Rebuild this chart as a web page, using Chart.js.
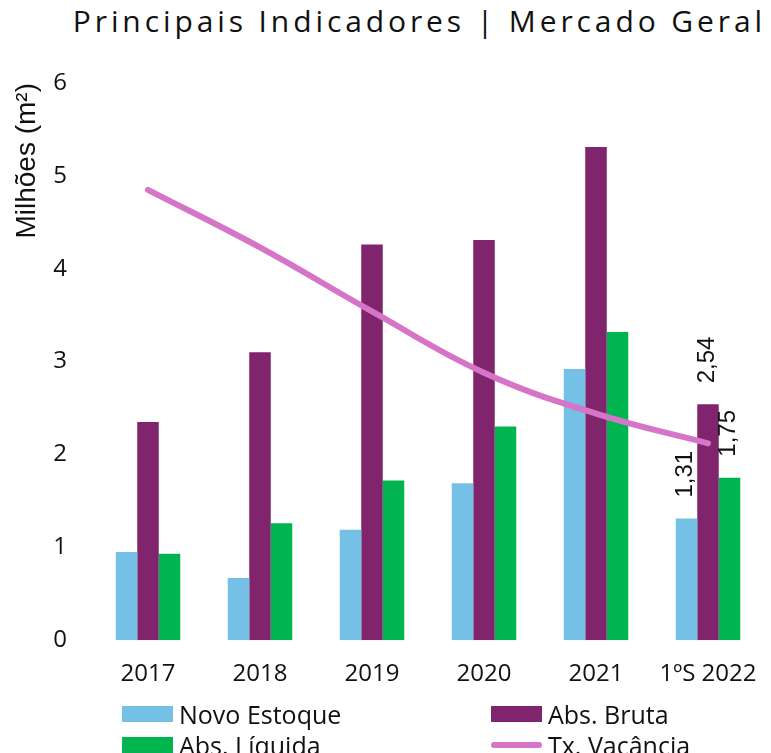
<!DOCTYPE html>
<html lang="pt-BR">
<head>
    <meta charset="utf-8">
    <script src="https://cdn.jsdelivr.net/npm/chart.js"></script>
    <style>
        html, body { margin: 0; padding: 0; background: #fff; overflow: hidden; }
        body { position: relative; width: 771px; height: 753px; }
        #titulo {
            position: absolute;
            top: 6px;
            right: 5px;
            margin: 0;
            font-family: "Open Sans", sans-serif;
            font-weight: normal;
            font-size: 30px;
            line-height: 29px;
            letter-spacing: 3.9px;
            white-space: nowrap;
            color: #111;
        }
        #chart { position: absolute; top: 0; left: 0; }
        #legend {
            position: absolute;
            top: 702px;
            left: 122px;
            display: grid;
            grid-template-columns: 369px 280px;
            row-gap: 8px;
            font-family: "Open Sans", sans-serif;
            font-size: 25px;
            color: #111;
        }
        .item { display: flex; align-items: center; height: 23px; white-space: nowrap; }
        .swatch { width: 51px; height: 16px; margin-right: 6px; }
        .swatch.line { height: 6px; border-radius: 3px; }
    </style>
</head>
<body>
    <h1 id="titulo">Principais Indicadores | Mercado Geral</h1>
    <canvas id="chart" width="771" height="709"></canvas>
    <div id="legend"></div>

    <script>
        const anos = ['2017', '2018', '2019', '2020', '2021', '1ºS 2022'];
        const novoEstoque = [0.95, 0.67, 1.19, 1.69, 2.92, 1.31];
        const absBruta = [2.35, 3.10, 4.26, 4.31, 5.31, 2.54];
        const absLiquida = [0.93, 1.26, 1.72, 2.30, 3.32, 1.75];
        const txVacancia = [4.85, 4.23, 3.54, 2.88, 2.44, 2.12];

        const fonte = '"Open Sans", sans-serif';
        const fonteArial = '"Liberation Sans", Arial, sans-serif';

        // rótulos rotacionados só no último período
        const rotulos = {
            id: 'rotulos',
            afterDatasetsDraw(chart) {
                const ctx = chart.ctx;
                const ult = anos.length - 1;
                ctx.save();
                ctx.font = '24px ' + fonteArial;
                ctx.fillStyle = '#111';
                ctx.textAlign = 'left';
                ctx.textBaseline = 'middle';
                [0, 1, 2].forEach(i => {
                    const bar = chart.getDatasetMeta(i).data[ult];
                    const v = chart.data.datasets[i].data[ult];
                    ctx.save();
                    ctx.translate(bar.x - 1, bar.y - 21);
                    ctx.rotate(-Math.PI / 2);
                    ctx.fillText(v.toFixed(2).replace('.', ','), 0, 0);
                    ctx.restore();
                });
                ctx.restore();
            }
        };

        const ctx = document.getElementById('chart').getContext('2d');
        const chart = new Chart(ctx, {
            type: 'bar',
            data: {
                labels: anos,
                datasets: [
                    { label: 'Novo Estoque', data: novoEstoque, backgroundColor: '#74c1e5', order: 1 },
                    { label: 'Abs. Bruta', data: absBruta, backgroundColor: '#80246e', order: 1 },
                    { label: 'Abs. Líquida', data: absLiquida, backgroundColor: '#00b550', order: 1 },
                    {
                        label: 'Tx. Vacância', data: txVacancia, type: 'line', yAxisID: 'y2',
                        borderColor: '#d675c7', borderWidth: 6, borderCapStyle: 'round',
                        tension: 0.4, pointRadius: 0, fill: false, order: 0
                    }
                ]
            },
            options: {
                responsive: false,
                animation: false,
                layout: { padding: { left: 0, right: 7, top: 83, bottom: 0 } },
                datasets: {
                    bar: { categoryPercentage: 0.576, barPercentage: 1.0 }
                },
                plugins: {
                    legend: { display: false },
                    tooltip: { enabled: false }
                },
                scales: {
                    x: {
                        grid: { display: false, drawTicks: false },
                        border: { display: false },
                        ticks: { color: '#111', padding: 20, font: { family: fonte, size: 24 } },
                        afterFit(s) { s.paddingLeft = 0; s.paddingRight = 0; }
                    },
                    y: {
                        min: 0,
                        max: 6,
                        grid: { display: false, drawTicks: false },
                        border: { display: false },
                        ticks: { stepSize: 1, color: '#111', padding: 25, font: { family: fonte, size: 24 } },
                        title: {
                            display: true,
                            text: 'Milhões (m²)',
                            align: 'end',
                            color: '#111',
                            font: { family: fonteArial, size: 28 },
                            padding: { top: 10, bottom: 0 }
                        },
                        afterFit(s) { s.width = 92; }
                    },
                    y2: { display: false, min: 0, max: 6 }
                }
            },
            plugins: [rotulos]
        });

        // legenda em duas colunas, montada a partir dos datasets
        const legenda = document.getElementById('legend');
        chart.data.datasets.forEach(ds => {
            const item = document.createElement('div');
            item.className = 'item';
            const sw = document.createElement('span');
            sw.className = ds.type === 'line' ? 'swatch line' : 'swatch';
            sw.style.background = ds.type === 'line' ? ds.borderColor : ds.backgroundColor;
            item.appendChild(sw);
            item.appendChild(document.createTextNode(ds.label));
            legenda.appendChild(item);
        });
    </script>
</body>
</html>
